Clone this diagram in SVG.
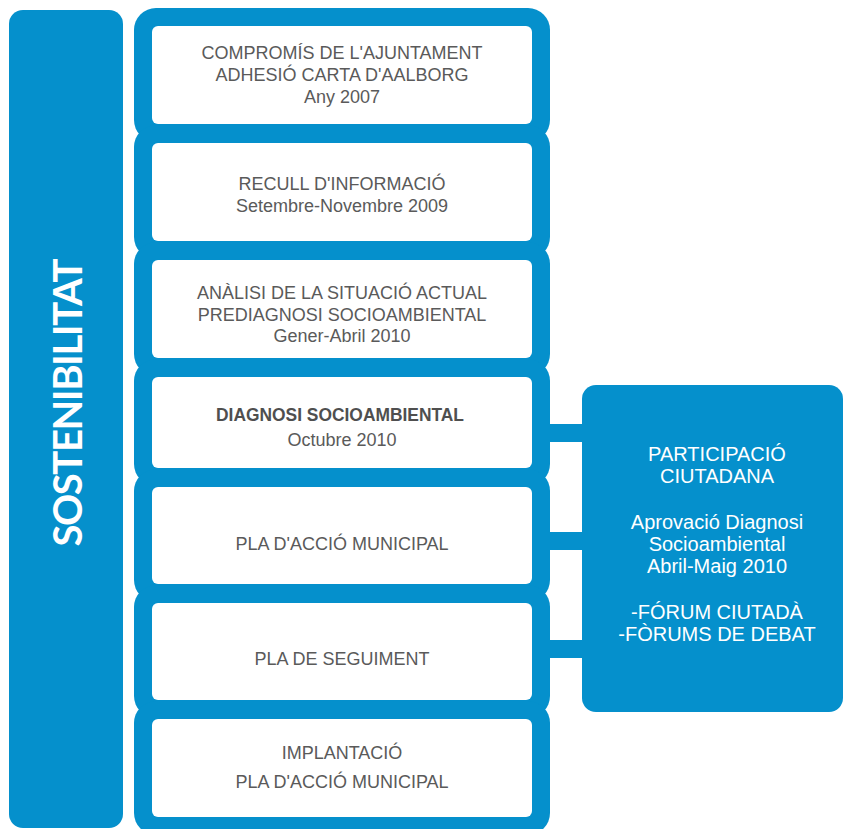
<svg xmlns="http://www.w3.org/2000/svg" width="845" height="829" viewBox="0 0 845 829">
<style>
.blue{fill:#0590cc}
.inner{fill:#ffffff}
.t{font-family:"Liberation Sans",Arial,sans-serif;font-size:18px;fill:#5a5a5a;text-anchor:middle}
.tb{font-family:"Liberation Sans",Arial,sans-serif;font-size:19px;font-weight:bold;fill:#4f4f4f;text-anchor:middle}
.w{font-family:"Liberation Sans",Arial,sans-serif;font-size:20px;fill:#ffffff;text-anchor:middle}
.side{font-family:Lato,"Liberation Sans",sans-serif;font-size:40px;font-weight:bold;fill:#ffffff;text-anchor:middle}
</style>
<rect width="845" height="829" fill="#ffffff"/>
<g id="sostenibilitat">
<rect class="blue" x="9" y="10" width="114" height="818" rx="14"/>
<text class="side" transform="translate(82,402.5) rotate(-90)" textLength="288" lengthAdjust="spacing">SOSTENIBILITAT</text>
</g>
<g id="frames">
<rect class="blue" x="134" y="8" width="416" height="134" rx="22"/>
<rect class="blue" x="134" y="125" width="416" height="134" rx="22"/>
<rect class="blue" x="134" y="242" width="416" height="134" rx="22"/>
<rect class="blue" x="134" y="359" width="416" height="127" rx="22"/>
<rect class="blue" x="134" y="469" width="416" height="133" rx="22"/>
<rect class="blue" x="134" y="585" width="416" height="133" rx="22"/>
<rect class="blue" x="134" y="701" width="416" height="134" rx="22"/>
</g>
<g id="connectors">
<rect class="blue" x="546" y="424" width="40" height="18"/>
<rect class="blue" x="546" y="532" width="40" height="18"/>
<rect class="blue" x="546" y="640" width="40" height="18"/>
</g>
<g id="n1">
<rect class="inner" x="152" y="26" width="380" height="98" rx="6"/>
<text class="t" x="342" y="59">COMPROMÍS DE L'AJUNTAMENT</text>
<text class="t" x="342" y="81">ADHESIÓ CARTA D'AALBORG</text>
<text class="t" x="342" y="103">Any 2007</text>
</g>
<g id="n2">
<rect class="inner" x="152" y="143" width="380" height="98" rx="6"/>
<text class="t" x="342" y="190">RECULL D'INFORMACIÓ</text>
<text class="t" x="342" y="212">Setembre-Novembre 2009</text>
</g>
<g id="n3">
<rect class="inner" x="152" y="260" width="380" height="98" rx="6"/>
<text class="t" x="342" y="299">ANÀLISI DE LA SITUACIÓ ACTUAL</text>
<text class="t" x="342" y="321">PREDIAGNOSI SOCIOAMBIENTAL</text>
<text class="t" x="342" y="342">Gener-Abril 2010</text>
</g>
<g id="n4">
<rect class="inner" x="152" y="377" width="380" height="91" rx="6"/>
<text class="tb" x="340" y="421" textLength="248" lengthAdjust="spacingAndGlyphs">DIAGNOSI SOCIOAMBIENTAL</text>
<text class="t" x="342" y="446">Octubre 2010</text>
</g>
<g id="n5">
<rect class="inner" x="152" y="487" width="380" height="97" rx="6"/>
<text class="t" x="342" y="550">PLA D'ACCIÓ MUNICIPAL</text>
</g>
<g id="n6">
<rect class="inner" x="152" y="603" width="380" height="97" rx="6"/>
<text class="t" x="342" y="665">PLA DE SEGUIMENT</text>
</g>
<g id="n7">
<rect class="inner" x="152" y="719" width="380" height="98" rx="6"/>
<text class="t" x="342" y="759">IMPLANTACIÓ</text>
<text class="t" x="342" y="788">PLA D'ACCIÓ MUNICIPAL</text>
</g>
<g id="participacio">
<rect class="blue" x="582" y="385" width="261" height="327" rx="14"/>
<text class="w" x="717" y="461">PARTICIPACIÓ</text>
<text class="w" x="717" y="483">CIUTADANA</text>
<text class="w" x="717" y="529">Aprovació Diagnosi</text>
<text class="w" x="717" y="551">Socioambiental</text>
<text class="w" x="717" y="573">Abril-Maig 2010</text>
<text class="w" x="717" y="619">-FÓRUM CIUTADÀ</text>
<text class="w" x="717" y="641">-FÒRUMS DE DEBAT</text>
</g>
</svg>
